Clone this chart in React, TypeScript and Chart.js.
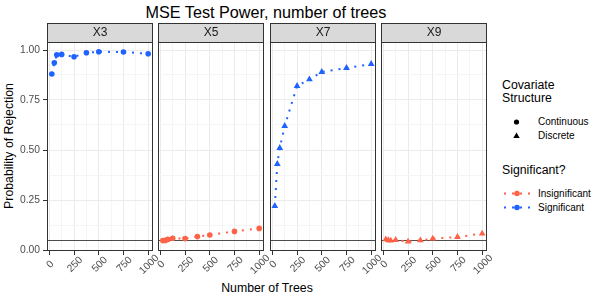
import React, { useEffect, useRef } from 'react';
import { Chart, registerables } from 'chart.js';

Chart.register(...registerables);

// ---------------- data ----------------
const TREES = [25, 50, 75, 125, 250, 375, 500, 750, 1000];
const PANELS = ['X3', 'X5', 'X7', 'X9'];
const X3_POWER = [0.88, 0.936, 0.976, 0.978, 0.966, 0.986, 0.991, 0.99, 0.981];
const X5_POWER = [0.047, 0.048, 0.053, 0.059, 0.057, 0.067, 0.075, 0.093, 0.108];
const X7_POWER = [0.22, 0.43, 0.51, 0.62, 0.82, 0.853, 0.89, 0.91, 0.93];
const X9_POWER = [0.053, 0.049, 0.047, 0.05, 0.042, 0.048, 0.057, 0.065, 0.082];
const PANEL_VALUES = [X3_POWER, X5_POWER, X7_POWER, X9_POWER];
const PANEL_SIGNIFICANT = [true, false, true, false];
const PANEL_STRUCTURE = ['Continuous', 'Continuous', 'Discrete', 'Discrete'];
const X_MAJOR = [0, 250, 500, 750, 1000];
const X_MINOR = [125, 375, 625, 875];
const Y_MAJOR = [0, 0.25, 0.5, 0.75, 1];
const Y_MINOR = [0.125, 0.375, 0.625, 0.875];
const THRESHOLD = 0.05;
const X_RANGE = [-23.75, 1048.75];
const Y_RANGE = [-0.005, 1.04];

// ---------------- style ----------------
const FONT = "'Liberation Sans', Arial, Helvetica, sans-serif";
const SIG_COLOR = '#1F63FF';
const INSIG_COLOR = '#FF6347';
const PLOT_LEFTS = [47, 158, 270, 381];
const PLOT_W = 106;
const STRIP_TOP = 23;
const STRIP_H = 19;
const PLOT_BOTTOM = 251;
const X_AXIS_H = 28;
const Y_AXIS_W = 47;
const SIDE_PAD = 14;
const RIGHT_PAD = 6;

Chart.defaults.font.family = FONT;

const isIn = (arr: number[], v: number) => arr.some((a) => Math.abs(a - v) < 1e-9);

function Panel({ index }: { index: number }) {
  const ref = useRef<HTMLCanvasElement | null>(null);
  const yW = index === 0 ? Y_AXIS_W : 0;
  const padLeft = index === 0 ? 0 : SIDE_PAD;
  const left = PLOT_LEFTS[index] - yW - padLeft;
  const width = padLeft + yW + PLOT_W + RIGHT_PAD;
  const height = PLOT_BOTTOM - STRIP_TOP + X_AXIS_H;

  useEffect(() => {
    if (!ref.current) return;
    const color = PANEL_SIGNIFICANT[index] ? SIG_COLOR : INSIG_COLOR;
    const discrete = PANEL_STRUCTURE[index] === 'Discrete';
    const label = PANELS[index];

    const deco = {
      id: 'panelDeco',
      beforeDatasetsDraw(chart: any) {
        const { ctx, chartArea, scales } = chart;
        const y = Math.round(scales.y.getPixelForValue(THRESHOLD)) + 0.5;
        ctx.save();
        ctx.strokeStyle = '#4D4D4D';
        ctx.lineWidth = 1;
        ctx.beginPath();
        ctx.moveTo(chartArea.left, y);
        ctx.lineTo(chartArea.right, y);
        ctx.stroke();
        ctx.restore();
      },
      afterDraw(chart: any) {
        const { ctx, chartArea, scales } = chart;
        const { left: l, top: t, right: r, bottom: b } = chartArea;
        ctx.save();
        // panel border
        ctx.strokeStyle = '#333333';
        ctx.lineWidth = 1;
        ctx.strokeRect(l + 0.5, t + 0.5, r - l - 1, b - t - 1);
        // strip
        ctx.fillStyle = '#D9D9D9';
        ctx.fillRect(l, t - STRIP_H, r - l, STRIP_H);
        ctx.strokeRect(l + 0.5, t - STRIP_H + 0.5, r - l - 1, STRIP_H);
        ctx.fillStyle = '#1A1A1A';
        ctx.font = `12px ${FONT}`;
        ctx.textAlign = 'center';
        ctx.textBaseline = 'middle';
        ctx.fillText(label, (l + r) / 2, t - STRIP_H / 2 + 0.5);
        // rotated x tick labels, centred on ticks
        ctx.fillStyle = '#4D4D4D';
        ctx.font = `10.3px ${FONT}`;
        X_MAJOR.forEach((v) => {
          const px = scales.x.getPixelForValue(v);
          ctx.save();
          ctx.translate(px + 1, b + 13.5);
          ctx.rotate(-Math.PI / 4);
          ctx.fillText(String(v), 0, 0);
          ctx.restore();
        });
        ctx.restore();
      },
    };

    const chart = new Chart(ref.current, {
      type: 'line',
      data: {
        datasets: [
          {
            label,
            data: TREES.map((x, k) => ({ x, y: PANEL_VALUES[index][k] })),
            borderColor: color,
            borderWidth: 2,
            borderDash: [2, 6],
            backgroundColor: color,
            pointStyle: discrete ? 'triangle' : 'circle',
            pointRadius: discrete ? 3.9 : 2.8,
            pointBackgroundColor: color,
            pointBorderColor: color,
            pointBorderWidth: 0,
            fill: false,
            tension: 0,
          },
        ],
      },
      plugins: [deco],
      options: {
        animation: false,
        responsive: true,
        maintainAspectRatio: false,
        events: [],
        layout: {
          autoPadding: false,
          padding: { left: padLeft, right: RIGHT_PAD, top: STRIP_H, bottom: 0 },
        },
        plugins: {
          legend: { display: false },
          tooltip: { enabled: false },
          title: { display: false },
        },
        scales: {
          x: {
            type: 'linear',
            min: X_RANGE[0],
            max: X_RANGE[1],
            afterBuildTicks: (s: any) => {
              s.ticks = [...X_MAJOR, ...X_MINOR].sort((a, b) => a - b).map((value) => ({ value }));
            },
            afterFit: (s: any) => {
              s.height = X_AXIS_H;
              s.paddingLeft = 0;
              s.paddingRight = 0;
            },
            ticks: { display: false, autoSkip: false },
            grid: {
              color: (c: any) => (isIn(X_MAJOR, c.tick?.value) ? '#EBEBEB' : '#F5F5F5'),
              lineWidth: 1,
              tickColor: (c: any) => (isIn(X_MAJOR, c.tick?.value) ? '#333333' : 'rgba(0,0,0,0)'),
              tickLength: 4,
              drawTicks: true,
            },
            border: { display: false },
          },
          y: {
            type: 'linear',
            min: Y_RANGE[0],
            max: Y_RANGE[1],
            afterBuildTicks: (s: any) => {
              s.ticks = [...Y_MAJOR, ...Y_MINOR].sort((a, b) => a - b).map((value) => ({ value }));
            },
            afterFit: (s: any) => {
              s.width = yW;
              s.paddingTop = 0;
              s.paddingBottom = 0;
            },
            ticks: {
              display: index === 0,
              autoSkip: false,
              padding: 3,
              color: '#4D4D4D',
              font: { size: 10.3, family: FONT },
              callback: (v: any) => (isIn(Y_MAJOR, Number(v)) ? Number(v).toFixed(2) : ''),
            },
            grid: {
              color: (c: any) => (isIn(Y_MAJOR, c.tick?.value) ? '#EBEBEB' : '#F5F5F5'),
              lineWidth: 1,
              tickColor: (c: any) => (isIn(Y_MAJOR, c.tick?.value) ? '#333333' : 'rgba(0,0,0,0)'),
              tickLength: 4,
              drawTicks: index === 0,
            },
            border: { display: false },
          },
        },
      } as any,
    });
    return () => chart.destroy();
  }, [index]);

  return (
    <div style={{ position: 'absolute', left, top: STRIP_TOP, width, height }}>
      <canvas ref={ref} />
    </div>
  );
}

export default function App() {
  const legendText: React.CSSProperties = {
    position: 'absolute',
    left: 538,
    fontSize: 10,
    lineHeight: '12px',
    color: '#000',
    whiteSpace: 'nowrap',
  };
  return (
    <div
      style={{
        position: 'absolute',
        left: 0,
        top: 0,
        width: 600,
        height: 300,
        background: '#FFFFFF',
        fontFamily: FONT,
        overflow: 'hidden',
      }}
    >
      <div
        style={{
          position: 'absolute',
          left: 266,
          top: 4,
          transform: 'translateX(-50%)',
          fontSize: 16.2,
          lineHeight: '17px',
          whiteSpace: 'nowrap',
          color: '#000',
        }}
      >
        MSE Test Power, number of trees
      </div>
      <div
        style={{
          position: 'absolute',
          left: 267,
          top: 280.5,
          transform: 'translateX(-50%)',
          fontSize: 12.3,
          lineHeight: '14px',
          whiteSpace: 'nowrap',
          color: '#000',
        }}
      >
        Number of Trees
      </div>
      <div
        style={{
          position: 'absolute',
          left: 9,
          top: 146,
          transform: 'translate(-50%, -50%) rotate(-90deg)',
          fontSize: 12.3,
          lineHeight: '14px',
          whiteSpace: 'nowrap',
          color: '#000',
        }}
      >
        Probability of Rejection
      </div>

      {PANELS.map((p, i) => (
        <Panel key={p} index={i} />
      ))}

      {/* legend */}
      <div
        style={{
          position: 'absolute',
          left: 502,
          top: 78.5,
          fontSize: 12.3,
          lineHeight: '13px',
          color: '#000',
        }}
      >
        Covariate
        <br />
        Structure
      </div>
      <div style={{ ...legendText, top: 116 }}>Continuous</div>
      <div style={{ ...legendText, top: 130 }}>Discrete</div>
      <div
        style={{
          position: 'absolute',
          left: 502,
          top: 162.5,
          fontSize: 12.3,
          lineHeight: '14px',
          color: '#000',
          whiteSpace: 'nowrap',
        }}
      >
        Significant?
      </div>
      <div style={{ ...legendText, top: 187.5 }}>Insignificant</div>
      <div style={{ ...legendText, top: 201.5 }}>Significant</div>
      <svg
        width={600}
        height={300}
        style={{ position: 'absolute', left: 0, top: 0, pointerEvents: 'none' }}
      >
        <circle cx={516.5} cy={122} r={2.6} fill="#000" />
        <polygon points="516.5,132.4 519.7,137.9 513.3,137.9" fill="#000" />
        <line x1={504} y1={193.5} x2={530} y2={193.5} stroke={INSIG_COLOR} strokeWidth={2} strokeDasharray="2 6" />
        <circle cx={517} cy={193.5} r={2.8} fill={INSIG_COLOR} />
        <line x1={504} y1={207.5} x2={530} y2={207.5} stroke={SIG_COLOR} strokeWidth={2} strokeDasharray="2 6" />
        <circle cx={517} cy={207.5} r={2.8} fill={SIG_COLOR} />
      </svg>
    </div>
  );
}
